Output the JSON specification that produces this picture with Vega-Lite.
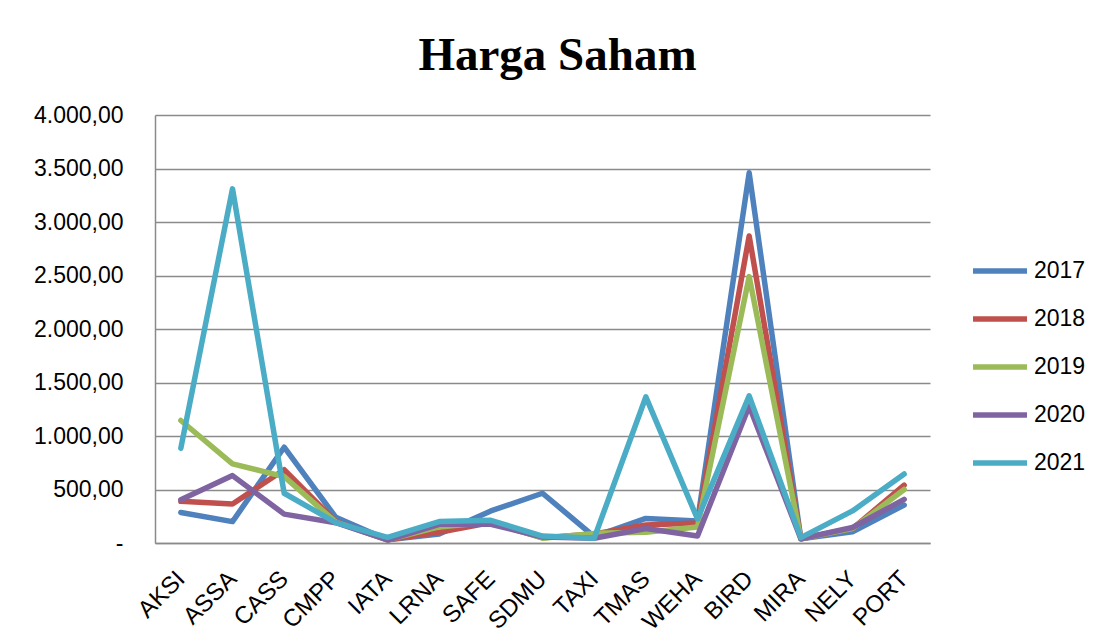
{
  "$schema": "https://vega.github.io/schema/vega-lite/v6.json",
  "width": 775,
  "height": 428,
  "autosize": {"type": "none"},
  "padding": {"left": 155, "top": 115, "right": 169, "bottom": 101},
  "background": "white",
  "title": {
    "text": "Harga Saham",
    "font": "Liberation Serif",
    "fontSize": 47,
    "fontWeight": "bold",
    "color": "black",
    "anchor": "middle",
    "frame": "group",
    "baseline": "alphabetic",
    "offset": -13,
    "dx": 15
  },
  "data": {
    "values": [
      {"kode": "AKSI", "2017": 285, "2018": 390, "2019": 1145, "2020": 405, "2021": 885},
      {"kode": "ASSA", "2017": 200, "2018": 365, "2019": 740, "2020": 630, "2021": 3310},
      {"kode": "CASS", "2017": 895, "2018": 685, "2019": 620, "2020": 270, "2021": 465},
      {"kode": "CMPP", "2017": 240, "2018": 200, "2019": 195, "2020": 190, "2021": 190},
      {"kode": "IATA", "2017": 30, "2018": 30, "2019": 30, "2020": 28, "2021": 53},
      {"kode": "LRNA", "2017": 85, "2018": 100, "2019": 150, "2020": 175, "2021": 200},
      {"kode": "SAFE", "2017": 300, "2018": 190, "2019": 195, "2020": 175, "2021": 212},
      {"kode": "SDMU", "2017": 465, "2018": 50, "2019": 45, "2020": 55, "2021": 65},
      {"kode": "TAXI", "2017": 60, "2018": 85, "2019": 90, "2020": 45, "2021": 44},
      {"kode": "TMAS", "2017": 230, "2018": 168, "2019": 100, "2020": 135, "2021": 1365},
      {"kode": "WEHA", "2017": 205, "2018": 188, "2019": 150, "2020": 65, "2021": 225},
      {"kode": "BIRD", "2017": 3460, "2018": 2870, "2019": 2490, "2020": 1280, "2021": 1375},
      {"kode": "MIRA", "2017": 40, "2018": 40, "2019": 40, "2020": 40, "2021": 50},
      {"kode": "NELY", "2017": 105, "2018": 135, "2019": 135, "2020": 145, "2021": 300},
      {"kode": "PORT", "2017": 355, "2018": 540, "2019": 500, "2020": 408, "2021": 645}
    ]
  },
  "transform": [
    {"fold": ["2017", "2018", "2019", "2020", "2021"], "as": ["tahun", "harga"]}
  ],
  "mark": {"type": "line", "strokeWidth": 5.5, "strokeJoin": "round", "strokeCap": "round"},
  "encoding": {
    "x": {
      "field": "kode",
      "type": "nominal",
      "sort": ["AKSI", "ASSA", "CASS", "CMPP", "IATA", "LRNA", "SAFE", "SDMU", "TAXI", "TMAS", "WEHA", "BIRD", "MIRA", "NELY", "PORT"],
      "scale": {"type": "point", "padding": 0.5},
      "axis": {
        "title": null,
        "labelAngle": -45,
        "labelAlign": "right",
        "labelBaseline": "middle",
        "labelPadding": 32,
        "labelFont": "Liberation Sans",
        "labelFontSize": 24,
        "labelColor": "black",
        "ticks": false,
        "domain": true,
        "domainColor": "#8a8a8a",
        "domainWidth": 1.5,
        "grid": false
      }
    },
    "y": {
      "field": "harga",
      "type": "quantitative",
      "scale": {"domain": [0, 4000], "nice": false, "zero": true},
      "axis": {
        "title": null,
        "values": [0, 500, 1000, 1500, 2000, 2500, 3000, 3500, 4000],
        "labelExpr": "datum.value == 0 ? '-\u00a0\u00a0' : replace(replace(replace(format(datum.value, ',.2f'), ',', ';'), '.', ','), ';', '.')",
        "labelFont": "Liberation Sans",
        "labelFontSize": 23,
        "labelColor": "black",
        "labelPadding": 32,
        "ticks": false,
        "domain": true,
        "domainColor": "#8a8a8a",
        "domainWidth": 1.5,
        "grid": true,
        "gridColor": "#8a8a8a",
        "gridWidth": 1.5
      }
    },
    "color": {
      "field": "tahun",
      "type": "nominal",
      "scale": {
        "domain": ["2017", "2018", "2019", "2020", "2021"],
        "range": ["#4F81BD", "#C0504D", "#9BBB59", "#8064A2", "#4BACC6"]
      },
      "legend": {
        "title": null,
        "orient": "none",
        "legendX": 815,
        "legendY": 144,
        "padding": 0,
        "symbolType": "stroke",
        "symbolSize": 2916,
        "symbolStrokeWidth": 5.5,
        "labelFont": "Liberation Sans",
        "labelFontSize": 23,
        "labelColor": "black",
        "labelOffset": 4,
        "clipHeight": 24,
        "rowPadding": 24
      }
    }
  },
  "config": {
    "view": {"stroke": null}
  }
}
